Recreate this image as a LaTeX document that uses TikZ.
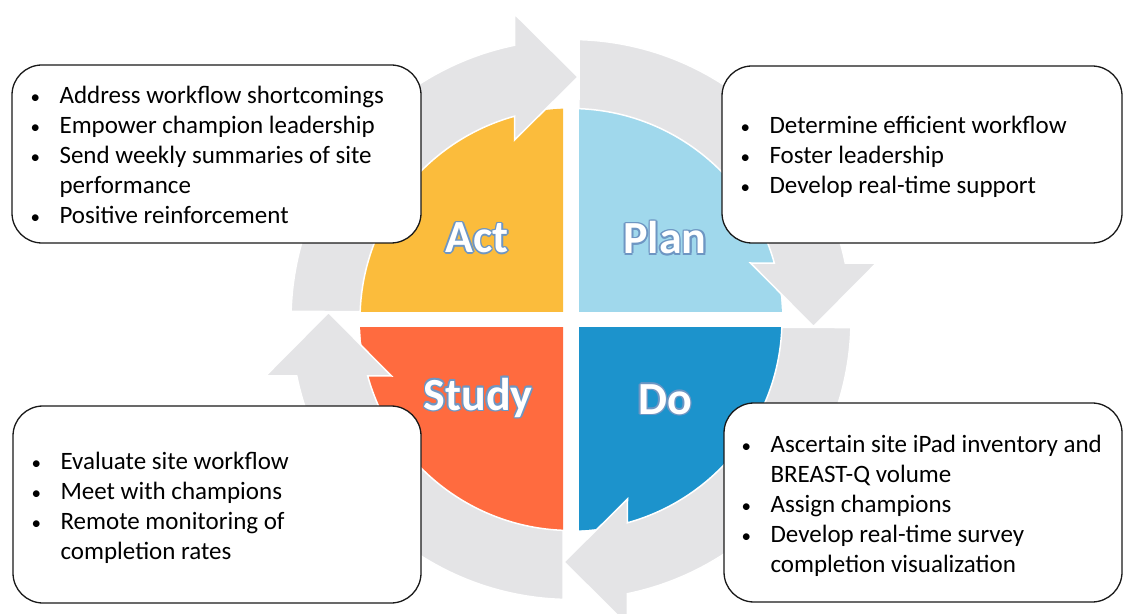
\documentclass[tikz,border=0pt]{standalone}
\usepackage{fontspec}
\setmainfont{Carlito}
\usetikzlibrary{positioning,calc}

\definecolor{actcol}{RGB}{251,188,60}
\definecolor{plancol}{RGB}{160,216,236}
\definecolor{studycol}{RGB}{255,107,63}
\definecolor{docol}{RGB}{28,147,204}
\definecolor{ringcol}{RGB}{228,228,230}
\definecolor{glowcol}{RGB}{110,150,195}

% testo bianco con alone azzurro
\newcommand{\glowtext}[1]{%
  \makebox[0pt][l]{\color{glowcol}%
    \foreach \gx/\gy in {1.6/0,-1.6/0,0/1.6,0/-1.6,1.1/1.1,-1.1/1.1,1.1/-1.1,-1.1/-1.1}{%
      \makebox[0pt][l]{\hspace*{\gx pt}\raisebox{\gy pt}{#1}}}}%
  #1}
\newcommand{\bul}{\hspace*{2pt}{\fontsize{19}{30}\selectfont •}}

\tikzset{
  infobox/.style={draw=black!90, line width=1.3pt, fill=white, rounded corners=30pt, inner sep=0pt},
  infotext/.style={anchor=west, inner sep=0pt, yshift=-3.5pt, font=\fontsize{25}{30}\selectfont, align=left},
  phase/.style={text=white, inner sep=0pt, font=\fontsize{46}{50}\selectfont\bfseries},
  ringarrow/.style={fill=ringcol, draw=white, line width=1.5pt},
}

\begin{document}
\begin{tikzpicture}[x=1pt, y=1pt]
    \useasboundingbox (0,0) rectangle (1123,613);
    \clip (0,0) rectangle (1123,613);
    \coordinate (O) at (571,293.5);

    % Cerchio
    \foreach \col/\sx/\sy in {actcol/-1/1, plancol/1/1, studycol/-1/-1, docol/1/-1} {
        \begin{scope}
            \clip ($(O)+(8*\sx,8*\sy)$) rectangle ($(O)+(260*\sx,260*\sy)$);
            \fill[\col] (O) circle (211);
        \end{scope}
    }

    % Frecce
    \foreach \k in {0,1,2,3} {
        \begin{scope}[shift={(O)}, rotate=-90*\k]
            \path[ringarrow] (178.36:280) arc[start angle=178.36, end angle=101.6, radius=280]
                -- (-56.5,305.5) -- (7,242.5) -- (-56.5,179.5)
                -- (105.5:211) arc[start angle=105.5, end angle=177.83, radius=211] -- cycle;
        \end{scope}
    }

    % Riquadri
    \node[infobox, minimum width=409pt, minimum height=178pt] (actbox) at (216.5,459) {};
    \node[infobox, minimum width=400pt, minimum height=177pt] (planbox) at (922,458.5) {};
    \node[infobox, minimum width=408pt, minimum height=197pt] (studybox) at (217,108.5) {};
    \node[infobox, minimum width=398pt, minimum height=199pt] (dobox) at (923,110.5) {};

    \node[infotext, right=17pt of actbox.west] (acttext) {%
        \begin{tabular}{@{}p{31pt}@{}l@{}}
        \bul & Address workflow shortcomings\\
        \bul & Empower champion leadership\\
        \bul & Send weekly summaries of site\\
             & performance\\
        \bul & Positive reinforcement
        \end{tabular}};
    \node[infotext, right=17pt of planbox.west] (plantext) {%
        \begin{tabular}{@{}p{31pt}@{}l@{}}
        \bul & Determine efficient workflow\\
        \bul & Foster leadership\\
        \bul & Develop real-time support
        \end{tabular}};
    \node[infotext, right=17pt of studybox.west] (studytext) {%
        \begin{tabular}{@{}p{31pt}@{}l@{}}
        \bul & Evaluate site workflow\\
        \bul & Meet with champions\\
        \bul & Remote monitoring of\\
             & completion rates
        \end{tabular}};
    \node[infotext, right=16pt of dobox.west] (dotext) {%
        \begin{tabular}{@{}p{31pt}@{}l@{}}
        \bul & Ascertain site iPad inventory and\\
             & BREAST-Q volume\\
        \bul & Assign champions\\
        \bul & Develop real-time survey\\
             & completion visualization
        \end{tabular}};

    % Etichette
    \node[phase] (actlabel) at ($(O)+(-94,81.5)$) {\glowtext{Act}};
    \node[phase] (planlabel) at ($(O)+(94,81.5)$) {\glowtext{Plan}};
    \node[phase] (studylabel) at ($(O)+(-93,-78)$) {\glowtext{Study}};
    \node[phase] (dolabel) at ($(O)+(94,-80)$) {\glowtext{Do}};

\end{tikzpicture}
\end{document}
